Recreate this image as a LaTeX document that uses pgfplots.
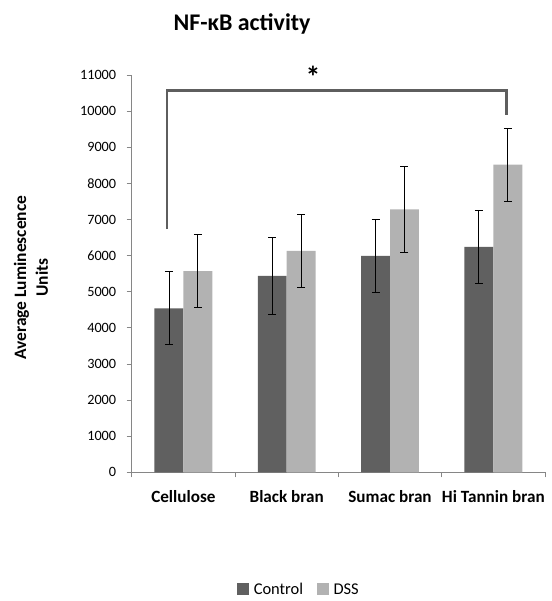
\documentclass[border=0pt]{standalone}
\usepackage{pgfplots}
\usepackage{pgfplotstable}
\pgfplotsset{compat=1.18}
\usepackage{fontspec}
\setmainfont{Carlito}
\definecolor{ctrl}{HTML}{606060}
\definecolor{dss}{HTML}{B2B2B2}
\definecolor{axgray}{HTML}{868686}
\definecolor{brk}{HTML}{5E5E5E}
\pgfplotstableread{
x y e
0 4540 1010
1 5440 1060
2 5990 1005
3 6240 1010
}\ctrltab
\pgfplotstableread{
x y e
0 5570 1010
1 6130 1015
2 7280 1200
3 8520 1010
}\dsstab
\begin{document}
\begin{tikzpicture}
\begin{axis}[
  scale only axis, width=413.3bp, height=397.3bp,
  xmin=-0.5, xmax=3.5, ymin=0, ymax=11000,
  axis x line*=bottom, axis y line*=left,
  axis line style={axgray, line width=0.8pt},
  xtick={-0.5,0.5,1.5,2.5,3.5}, xticklabels={},
  extra x ticks={0,1,2,3},
  extra x tick labels={Cellulose, Black bran, Sumac bran, Hi Tannin bran},
  extra x tick style={major tick length=0pt, xticklabel style={font=\bfseries\fontsize{17.2}{19}\selectfont, yshift=-15bp}},
  ytick={0,1000,...,11000},
  tick align=outside,
  major tick length=5bp,
  tick style={axgray, line width=0.8pt},
  clip=false,
  scaled y ticks=false,
  /pgf/number format/assume math mode=true,
  yticklabel style={/pgf/number format/.cd, fixed, 1000 sep={}, /tikz/.cd, font=\fontsize{14.3}{16}\selectfont, xshift=-7bp},
  every axis y label/.style={at={(rel axis cs:-0.2437,0.490)}, rotate=90, anchor=center},
  ylabel={Average Luminescence\\Units},
  ylabel style={align=center, font=\bfseries\fontsize{17.5}{22}\selectfont},
  legend columns=2,
  legend style={draw=none, at={(rel axis cs:0.405,-0.296)}, anchor=center, font=\fontsize{16.5}{18}\selectfont, /tikz/every even column/.append style={column sep=12bp}},
]
\addplot[ybar, bar width=0.28, bar shift=-0.14, fill=ctrl, draw=none, forget plot]
  table[x=x, y=y] {\ctrltab};
\addplot[ybar, bar width=0.28, bar shift=0.14, fill=dss, draw=none, forget plot]
  table[x=x, y=y] {\dsstab};
\addplot[draw=none, mark=none, forget plot,
  error bars/.cd, y dir=both, y explicit,
  error bar style={black, line width=0.8pt},
  error mark options={black, line width=0.8pt, mark size=4bp, rotate=90}]
  table[x expr=\thisrow{x}-0.14, y=y, y error=e] {\ctrltab};
\addplot[draw=none, mark=none, forget plot,
  error bars/.cd, y dir=both, y explicit,
  error bar style={black, line width=0.8pt},
  error mark options={black, line width=0.8pt, mark size=4bp, rotate=90}]
  table[x expr=\thisrow{x}+0.14, y=y, y error=e] {\dsstab};
\addplot[brk, line width=2.6bp, sharp plot, no markers, forget plot, line join=miter]
  coordinates {(-0.16,6730) (-0.16,10570) (3.13,10570) (3.13,9900)};
\addlegendimage{legend image code/.code={\fill[ctrl] (0bp,-4.5bp) rectangle (11bp,6.5bp); \path (14bp,0bp);}}
\addlegendentry{Control}
\addlegendimage{legend image code/.code={\fill[dss] (0bp,-4.5bp) rectangle (11bp,6.5bp); \path (14bp,0bp);}}
\addlegendentry{DSS}
\node[font=\bfseries\fontsize{24}{28}\selectfont] at (rel axis cs:0.267,1.128) {NF-κB activity};
\node[font=\bfseries\fontsize{30}{32}\selectfont] at (axis cs:1.255,10950) {*};
\coordinate (bbl) at (rel axis cs:-0.31866,-0.32394);
\coordinate (btr) at (rel axis cs:1.01452,1.18878);
\end{axis}
\pgfresetboundingbox
\path (bbl) rectangle (btr);
\end{tikzpicture}
\end{document}
